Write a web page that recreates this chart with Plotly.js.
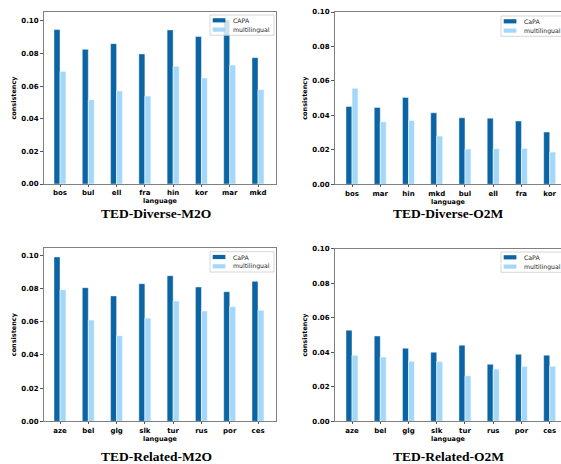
<!DOCTYPE html>
<html>
<head>
<meta charset="utf-8">
<script src="https://cdn.plot.ly/plotly-3.0.1.min.js"></script>
<style>html,body{margin:0;padding:0;background:#fff;}#chart{width:561px;height:464px;}</style>
</head>
<body>
<div id="chart"></div>
<script>
// ---- data ----
const catDivM2O = ['bos','bul','ell','fra','hin','kor','mar','mkd'];
const capaDivM2O = [0.0947,0.0826,0.0861,0.0798,0.0945,0.0904,0.1006,0.0775];
const mlDivM2O   = [0.0691,0.0517,0.0571,0.0540,0.0722,0.0650,0.0730,0.0579];

const catDivO2M = ['bos','mar','hin','mkd','bul','ell','fra','kor'];
const capaDivO2M = [0.0452,0.0446,0.0504,0.0415,0.0386,0.0384,0.0367,0.0303];
const mlDivO2M   = [0.0558,0.0363,0.0371,0.0280,0.0205,0.0207,0.0209,0.0187];

const catRelM2O = ['aze','bel','glg','slk','tur','rus','por','ces'];
const capaRelM2O = [0.0990,0.0805,0.0755,0.0829,0.0877,0.0809,0.0781,0.0843];
const mlRelM2O   = [0.0793,0.0610,0.0516,0.0622,0.0725,0.0665,0.0691,0.0669];

const catRelO2M = ['aze','bel','glg','slk','tur','rus','por','ces'];
const capaRelO2M = [0.0528,0.0494,0.0423,0.0400,0.0441,0.0330,0.0388,0.0383];
const mlRelO2M   = [0.0383,0.0373,0.0348,0.0346,0.0264,0.0303,0.0319,0.0319];

const seriesNames = [['CAPA','multilingual'],['CaPA','multilingual'],['CaPA','multilingual'],['CaPA','multilingual']];
const panelTitles = ['TED-Diverse-M2O','TED-Diverse-O2M','TED-Related-M2O','TED-Related-O2M'];
const xTitle = 'language';
const yTitle = 'consistency';

// ---- style ----
const W = 561, H = 464;
const DARK = '#0b64a3', LIGHT = '#a4d8f8';
const px = x => x / W;
const py = y => 1 - y / H;

const panels = [
  {cats: catDivM2O, a: capaDivM2O, b: mlDivM2O, xd: [44, 276], yd: [12, 184], xr: [-0.566, 7.636], yr: [0, 0.1055], full: true, leg: [210, 15, 274], ttl: [156, 213]},
  {cats: catDivO2M, a: capaDivO2M, b: mlDivO2M, xd: [335, 561], yd: [12, 184.3], xr: [-0.602, 7.40], yr: [0, 0.1], full: false, leg: [501, 16, 565], ttl: [448, 213]},
  {cats: catRelM2O, a: capaRelM2O, b: mlRelM2O, xd: [44, 276], yd: [248, 421.3], xr: [-0.566, 7.636], yr: [0, 0.1044], full: true, leg: [210, 251.7, 274], ttl: [156, 456]},
  {cats: catRelO2M, a: capaRelO2M, b: mlRelO2M, xd: [335, 561], yd: [248.7, 421.3], xr: [-0.602, 7.40], yr: [0, 0.1], full: false, leg: [501, 252, 565], ttl: [448, 456]}
];

const traces = [];
const layout = {
  width: W, height: H,
  margin: {l: 0, r: 0, t: 0, b: 0},
  paper_bgcolor: '#fff', plot_bgcolor: '#fff',
  showlegend: false,
  barmode: 'group', bargap: 0.575, bargroupgap: 0,
  shapes: [], annotations: []
};

const tickFont = {family: 'DejaVu Sans', size: 7, color: '#000', weight: 'bold'};
const axTitleFont = {family: 'DejaVu Sans', size: 6.5, color: '#000', weight: 'bold'};

panels.forEach((p, i) => {
  const n = i === 0 ? '' : String(i + 1);
  const xa = 'x' + n, ya = 'y' + n;
  const names = seriesNames[i];
  traces.push({type: 'bar', x: p.cats, y: p.a, name: names[0], xaxis: xa, yaxis: ya,
    marker: {color: DARK, line: {color: 'rgba(255,255,255,0.55)', width: 0.8}}, hoverinfo: 'x+y+name'});
  traces.push({type: 'bar', x: p.cats, y: p.b, name: names[1], xaxis: xa, yaxis: ya,
    marker: {color: LIGHT, line: {color: 'rgba(255,255,255,0.7)', width: 0.8}}, hoverinfo: 'x+y+name'});

  layout['xaxis' + n] = {
    domain: [px(p.xd[0]), px(p.xd[1])], anchor: ya, type: 'category',
    range: p.xr, showgrid: false, zeroline: false,
    showline: true, linecolor: '#808080', linewidth: 1, mirror: true,
    ticks: 'outside', ticklen: 2, tickwidth: 1, tickcolor: '#555',
    tickfont: tickFont,
    title: {text: xTitle, font: axTitleFont, standoff: 0}
  };
  layout['yaxis' + n] = {
    domain: [py(p.yd[1]), py(p.yd[0])], anchor: xa,
    range: p.yr, showgrid: false, zeroline: false,
    showline: true, linecolor: '#808080', linewidth: 1, mirror: p.full,
    ticks: 'outside', ticklen: 3, tickwidth: 1, tickcolor: '#555',
    dtick: 0.02, tick0: 0, tickformat: '.2f',
    tickfont: tickFont,
    title: {text: yTitle, font: axTitleFont, standoff: 4}
  };

  // legend (matplotlib style) drawn with shapes + text
  const [lx, ly, rx] = p.leg;
  layout.shapes.push({type: 'rect', xref: 'paper', yref: 'paper',
    x0: px(lx), x1: px(rx), y0: py(ly + 20.3), y1: py(ly),
    line: {color: '#cccccc', width: 0.8}, fillcolor: 'rgba(255,255,255,0.8)', layer: 'above'});
  [[DARK, 5.3, names[0]], [LIGHT, 14.6, names[1]]].forEach(([c, dy, label]) => {
    layout.shapes.push({type: 'rect', xref: 'paper', yref: 'paper',
      x0: px(lx + 2.7), x1: px(lx + 15.4), y0: py(ly + dy + 2.1), y1: py(ly + dy - 2.1),
      line: {width: 0}, fillcolor: c, layer: 'above'});
    layout.annotations.push({xref: 'paper', yref: 'paper', x: px(lx + 21), y: py(ly + dy),
      xanchor: 'left', yanchor: 'middle', showarrow: false, text: label,
      font: {family: 'DejaVu Sans', size: 6.2, color: '#222'}});
  });

  // panel caption
  layout.annotations.push({xref: 'paper', yref: 'paper', x: px(p.ttl[0]), y: py(p.ttl[1]),
    xanchor: 'center', yanchor: 'middle', showarrow: false, text: panelTitles[i],
    font: {family: 'Liberation Serif', size: 13.5, color: '#000', weight: 'bold'}});
});

Plotly.newPlot('chart', traces, layout, {displayModeBar: false, staticPlot: true});
</script>
</body>
</html>
